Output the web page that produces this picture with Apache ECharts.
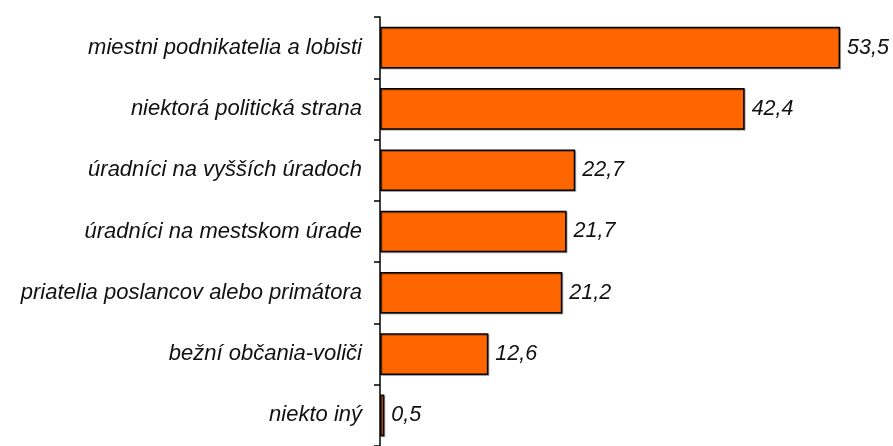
<!DOCTYPE html>
<html>
<head>
<meta charset="utf-8">
<script src="https://cdn.jsdelivr.net/npm/echarts@6/dist/echarts.min.js"></script>
<style>
html, body { margin: 0; padding: 0; background: #fff; }
#chart { width: 893px; height: 446px; }
</style>
</head>
<body>
<div id="chart"></div>
<script>
// categories top to bottom
var categories = [
    'miestni podnikatelia a lobisti',
    'niektorá politická strana',
    'úradníci na vyšších úradoch',
    'úradníci na mestskom úrade',
    'priatelia poslancov alebo primátora',
    'bežní občania-voliči',
    'niekto iný'
];
var values = [53.5, 42.4, 22.7, 21.7, 21.2, 12.6, 0.5];

var option = {
    animation: false,
    backgroundColor: '#fff',
    grid: {
        left: 380,
        top: 17,
        height: 434,
        right: 40
    },
    xAxis: {
        type: 'value',
        min: 0,
        max: 55,
        show: false
    },
    yAxis: {
        type: 'category',
        inverse: true,
        data: categories,
        axisLine: { show: true, lineStyle: { color: '#000', width: 1.5 } },
        axisTick: { show: true, inside: false, length: 6, lineStyle: { color: '#000', width: 1.5 } },
        axisLabel: {
            margin: 18,
            color: '#111',
            fontFamily: 'Liberation Sans, Arial, sans-serif',
            fontStyle: 'italic',
            fontSize: 22
        },
        splitLine: { show: false }
    },
    series: [
        {
            type: 'bar',
            data: values,
            barCategoryGap: '32%',
            itemStyle: {
                color: '#FF6600',
                borderColor: '#000',
                borderWidth: 1.5,
                shadowColor: 'rgba(0,0,0,0.3)',
                shadowOffsetX: 1,
                shadowOffsetY: 1
            },
            label: {
                show: true,
                position: 'right',
                distance: 7,
                color: '#111',
                fontFamily: 'Liberation Sans, Arial, sans-serif',
                fontStyle: 'italic',
                fontSize: 21.5,
                formatter: function (p) {
                    return String(p.value).replace('.', ',');
                }
            }
        }
    ]
};

var myChart = echarts.init(document.getElementById('chart'));
myChart.setOption(option);
</script>
</body>
</html>
